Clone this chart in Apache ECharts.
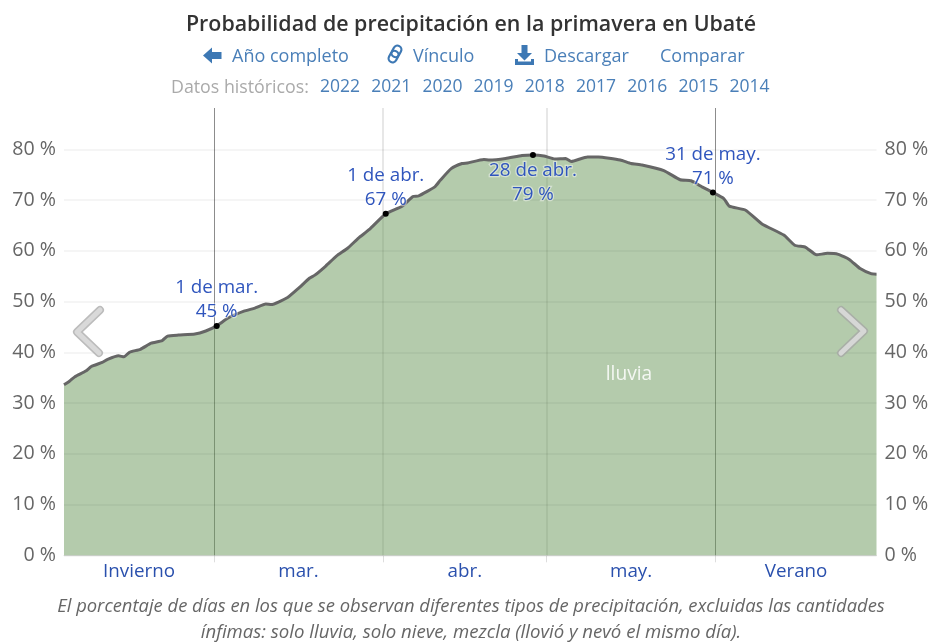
<!DOCTYPE html>
<html lang="es">
<head>
<meta charset="utf-8">
<style>html,body{margin:0;padding:0;background:#fff}#c{width:930px;height:642px}</style>
<script src="https://cdn.jsdelivr.net/npm/echarts@6/dist/echarts.min.js"></script>
</head>
<body>
<div id="c"></div>
<script>
// Day number: 1 = 1 Feb ... 150 = 30 Jun
const rainDays = [1,2,3,5,6,8,9,11,12,13,15,17,19,20,22,25,27,29,31,34,36,38,39,42,44,46,47,49,51,53,55,57,60,63,65,66,69,70,72,74,75,78,79,82,85,87,89,91,93,94,97,99,103,105,107,111,114,116,118,120,122,123,126,129,133,135,137,139,141,143,145,147,149,150];
const rainPct = [33.6,34.3,35.2,36.3,37.2,38.0,38.6,39.3,39.1,40.0,40.6,41.8,42.3,43.2,43.4,43.6,44.2,45.2,46.7,48.1,48.7,49.5,49.4,50.8,52.6,54.6,55.2,57.0,59.0,60.5,62.5,64.2,67.3,68.8,70.7,70.8,72.6,73.9,76.2,77.2,77.3,78.0,77.9,78.2,78.8,78.9,78.7,78.1,78.2,77.6,78.5,78.5,77.9,77.2,76.9,75.8,74.0,73.8,72.6,71.5,70.3,68.8,68.0,65.3,63.1,61.1,60.7,59.2,59.5,59.3,58.3,56.5,55.5,55.4];
const callouts = [
  {day:29, pct:45.2, date:'1 de mar.', text:'45 %'},
  {day:60, pct:67.3, date:'1 de abr.', text:'67 %'},
  {day:87, pct:78.9, date:'28 de abr.', text:'79 %'},
  {day:120, pct:71.5, date:'31 de may.', text:'71 %'}
];
const monthEdges = [28.5,59.5,89.5,120.5];
const strongEdges = [28.5,120.5];
const softEdges = [59.5,89.5];
const bandCentres = [14.75,44,74.5,105,135.25];
const bandNames = ['Invierno','mar.','abr.','may.','Verano'];
const yTicks = [0,10,20,30,40,50,60,70,80];
const titleText = 'Probabilidad de precipitación en la primavera en Ubaté';
const navLinks = ['Año completo','Vínculo','Descargar','Comparar'];
const historyLabel = 'Datos históricos:';
const years = ['2022','2021','2020','2019','2018','2017','2016','2015','2014'];
const seriesName = 'lluvia';
const notes = ['El porcentaje de días en los que se observan diferentes tipos de precipitación, excluidas las cantidades','ínfimas: solo lluvia, solo nieve, mezcla (llovió y nevó el mismo día).'];

const FONT = '"Open Sans","Noto Sans",sans-serif';
const BLUE = '#2f55bd', LINK = '#4a7fb8';
const rainLine = rainDays.map((d,i)=>[d,rainPct[i]]);

function txt(x,y,text,size,fill,extra){
  return {type:'text',silent:true,z:20,x,y,style:Object.assign({text,fontSize:size,fill,fontFamily:FONT,verticalAlign:'middle',align:'left'},extra||{})};
}
function chevron(pts){
  return [
    {type:'polyline',silent:true,z:15,shape:{points:pts},style:{fill:null,stroke:'rgba(165,165,165,0.75)',lineWidth:8,lineCap:'round',lineJoin:'round'}},
    {type:'polyline',silent:true,z:16,shape:{points:pts},style:{fill:null,stroke:'rgba(222,222,222,0.85)',lineWidth:5,lineCap:'round',lineJoin:'round'}}
  ];
}
const navX = [232,413,544,660];
const graphics = [
  txt(471,25,titleText,21.4,'#333',{align:'center',fontWeight:600}),
  ...navLinks.map((t,i)=>txt(navX[i],57,t,18,LINK)),
  {type:'polygon',silent:true,z:20,shape:{points:[[203,55.5],[212,47.5],[212,52],[221.5,52],[221.5,59],[212,59],[212,63.5]]},style:{fill:'#3d78b4'}},
  {type:'rect',silent:true,z:20,x:395,y:54,rotation:-0.5,originX:0,originY:0,shape:{x:-4,y:-3,width:8,height:12,r:4},style:{fill:null,stroke:'#3d78b4',lineWidth:2.2}},
  {type:'rect',silent:true,z:20,x:395,y:54,rotation:-0.5,originX:0,originY:0,shape:{x:-4,y:-9,width:8,height:12,r:4},style:{fill:null,stroke:'#3d78b4',lineWidth:2.2}},
  {type:'polygon',silent:true,z:20,shape:{points:[[521.5,45],[527.5,45],[527.5,53],[532,53],[524.5,60.5],[517,53],[521.5,53]]},style:{fill:'#3d78b4'}},
  {type:'polygon',silent:true,z:20,shape:{points:[[515,59],[518,59],[518,61.5],[531,61.5],[531,59],[534,59],[534,65],[515,65]]},style:{fill:'#3d78b4'}},
  txt(171,87.5,historyLabel,17.8,'#aaaaaa'),
  ...years.map((t,i)=>txt(320+i*51.2,87.5,t,17.5,LINK)),
  txt(629,375,seriesName,19.2,'rgba(255,255,255,0.85)',{align:'center'}),
  ...chevron([[100,310],[77,332],[99,353]]),
  ...chevron([[841,310],[864,331],[841,353]]),
  ...notes.map((t,i)=>txt(471,607+i*26,t,i===0?18.4:18.6,'#666',{align:'center',fontStyle:'italic'}))
];

const yAxisBase = {
  type:'value',min:0,max:88.14,interval:10,z:4,
  axisLine:{show:false},axisTick:{show:false},
  axisLabel:{margin:8,fontSize:19.6,color:'#666',fontFamily:FONT,showMaxLabel:false,formatter:v=>yTicks.includes(v)?v+' %':''}
};

const chart = echarts.init(document.getElementById('c'),null,{renderer:'canvas'});
chart.setOption({
  animation:false,
  backgroundColor:'#fff',
  grid:{left:64,right:53.5,top:108,bottom:86.7,containLabel:false,outerBoundsMode:'none'},
  xAxis:{
    type:'value',min:1,max:150,
    axisLine:{show:true,lineStyle:{color:'rgba(0,0,0,0.12)',width:1}},
    splitLine:{show:false},
    axisTick:{show:true,customValues:monthEdges,length:7,lineStyle:{color:'#dddddd',width:1}},
    axisLabel:{show:true,customValues:bandCentres,margin:7,fontSize:18.8,color:'#2a50ad',fontFamily:FONT,
      formatter:v=>bandNames[bandCentres.indexOf(v)]}
  },
  yAxis:[
    Object.assign({},yAxisBase,{position:'left',splitLine:{show:true,showMaxLine:false,lineStyle:{color:'rgba(0,0,0,0.04)',width:2}}}),
    Object.assign({},yAxisBase,{position:'right',splitLine:{show:false}})
  ],
  series:[{
    type:'line',name:seriesName,data:rainLine,showSymbol:false,silent:true,smooth:0.15,
    lineStyle:{color:'#666666',width:3},
    areaStyle:{color:'rgba(105,151,89,0.5)',opacity:1},
    markLine:{
      silent:true,symbol:'none',label:{show:false},animation:false,z:3,
      data:[
        ...strongEdges.map(x=>({xAxis:x,lineStyle:{color:'rgba(0,0,0,0.45)',width:1,type:'solid'}})),
        ...softEdges.map(x=>({xAxis:x,lineStyle:{color:'rgba(0,0,0,0.13)',width:1.5,type:'solid'}}))
      ]
    },
    markPoint:{
      silent:true,animation:false,symbol:'circle',symbolSize:6,itemStyle:{color:'#000'},z:6,
      data:callouts.map(c=>({
        coord:[c.day,c.pct],
        label:{
          show:true,
          position:c.day===87?'bottom':'top',
          distance:c.day===87?1:-1,
          formatter:c.date+'\n'+c.text,
          fontSize:18.8,lineHeight:24,color:BLUE,fontFamily:FONT,
          textBorderColor:'rgba(255,255,255,0.45)',textBorderWidth:2.5
        }
      }))
    }
  }],
  graphic:{elements:graphics}
});
</script>
</body>
</html>
